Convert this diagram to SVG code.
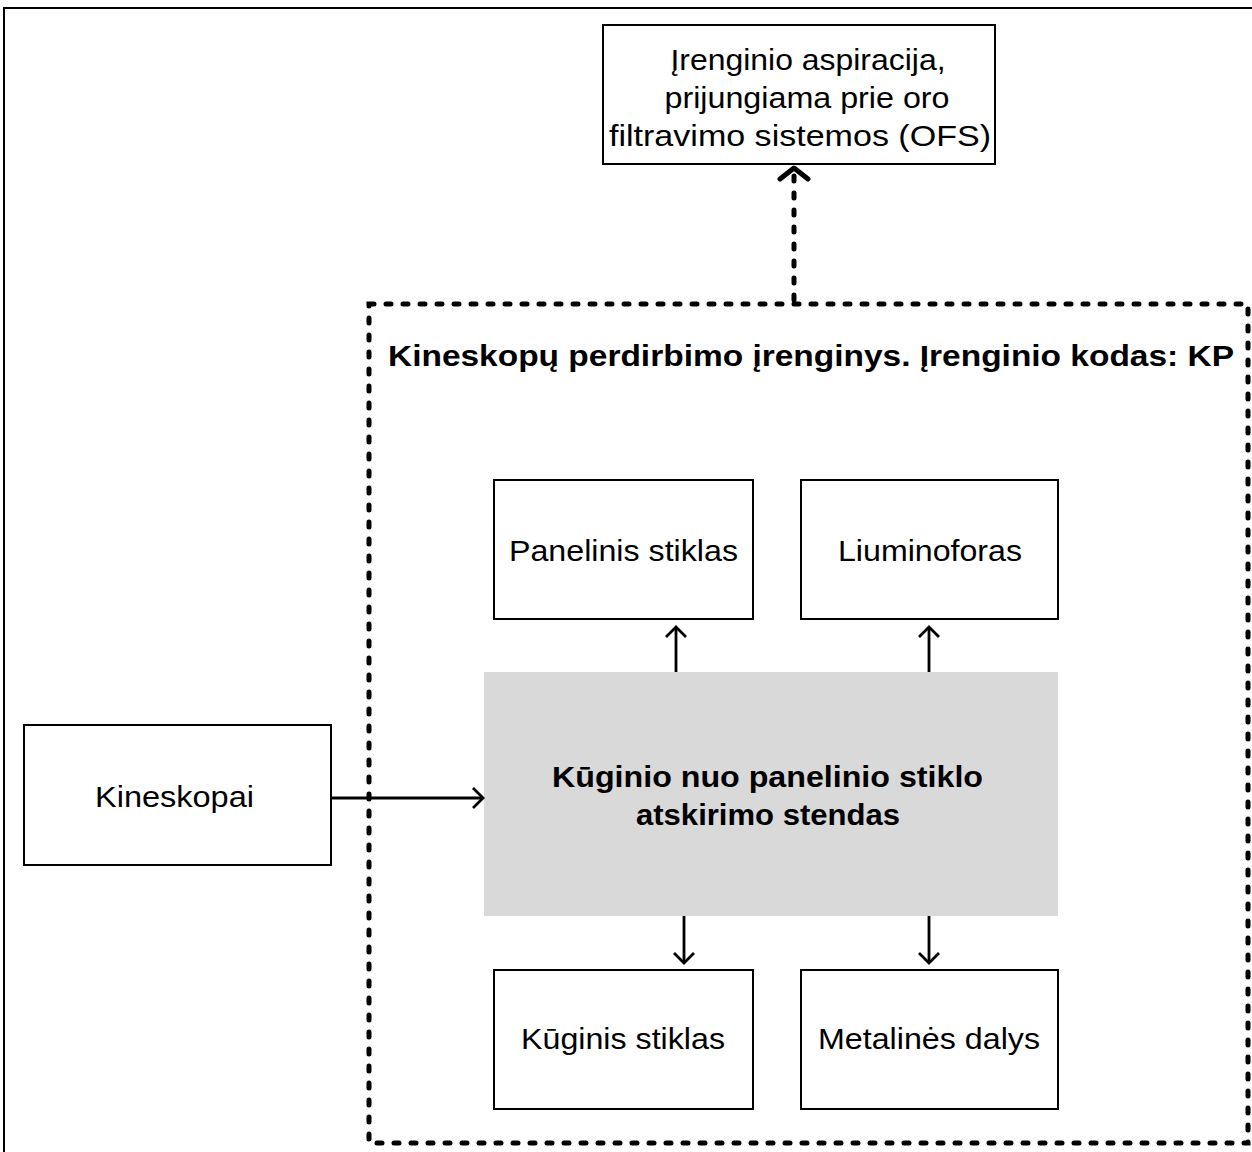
<svg xmlns="http://www.w3.org/2000/svg" width="1252" height="1152" viewBox="0 0 1252 1152">
<style>
.box{fill:#fff;stroke:#000;stroke-width:2}
.t{font-family:"Liberation Sans",Arial,sans-serif;font-size:29px;fill:#000;text-anchor:middle}
.b{font-weight:bold}
.ln{stroke:#000;stroke-width:2.8;fill:none}
.dash{stroke:#000;stroke-width:5;fill:none;stroke-dasharray:5 12;stroke-linecap:round}
</style>
<defs>
<marker id="ah" markerWidth="14" markerHeight="24" refX="11" refY="11" orient="auto" markerUnits="userSpaceOnUse">
<path d="M1,1 L11,11 L1,21" fill="none" stroke="#000" stroke-width="2.8"/>
</marker>
<marker id="ahb" markerWidth="20" markerHeight="36" refX="15" refY="17" orient="auto" markerUnits="userSpaceOnUse">
<path d="M4,3 L15,17 L4,31" fill="none" stroke="#000" stroke-width="5" stroke-linecap="round" stroke-linejoin="round"/>
</marker>
</defs>
<rect x="0" y="0" width="1252" height="1152" fill="#fff"/>
<rect id="frame" x="4" y="8" width="1260" height="1160" fill="none" stroke="#000" stroke-width="2"/>
<g id="unit">
<rect x="369" y="304" width="879" height="839" class="dash"/>
<text class="t b" x="811" y="366" textLength="846" lengthAdjust="spacingAndGlyphs">Kineskopų perdirbimo įrenginys. Įrenginio kodas: KP</text>
</g>
<g id="ofs">
<rect class="box" x="603" y="25" width="392" height="139"/>
<text class="t" x="808" y="70" textLength="275" lengthAdjust="spacingAndGlyphs">Įrenginio aspiracija,</text>
<text class="t" x="807" y="108" textLength="285" lengthAdjust="spacingAndGlyphs">prijungiama prie oro</text>
<text class="t" x="800" y="146" textLength="382" lengthAdjust="spacingAndGlyphs">filtravimo sistemos (OFS)</text>
</g>
<g id="stendas">
<rect x="484" y="672" width="574" height="244" fill="#d9d9d9"/>
<text class="t b" x="767.5" y="787" textLength="431" lengthAdjust="spacingAndGlyphs">Kūginio nuo panelinio stiklo</text>
<text class="t b" x="768" y="825" textLength="264" lengthAdjust="spacingAndGlyphs">atskirimo stendas</text>
</g>
<g id="kineskopai">
<rect class="box" x="24" y="725" width="307" height="140"/>
<text class="t" x="174.5" y="807" textLength="159" lengthAdjust="spacingAndGlyphs">Kineskopai</text>
</g>
<g id="panelinis">
<rect class="box" x="494" y="480" width="259" height="139"/>
<text class="t" x="623.5" y="561" textLength="229" lengthAdjust="spacingAndGlyphs">Panelinis stiklas</text>
</g>
<g id="liuminoforas">
<rect class="box" x="801" y="480" width="257" height="139"/>
<text class="t" x="930" y="561" textLength="184" lengthAdjust="spacingAndGlyphs">Liuminoforas</text>
</g>
<g id="kuginis">
<rect class="box" x="494" y="970" width="259" height="139"/>
<text class="t" x="623" y="1049" textLength="204" lengthAdjust="spacingAndGlyphs">Kūginis stiklas</text>
</g>
<g id="metalines">
<rect class="box" x="801" y="970" width="257" height="139"/>
<text class="t" x="929" y="1049" textLength="222" lengthAdjust="spacingAndGlyphs">Metalinės dalys</text>
</g>
<g id="connectors">
<line class="ln" x1="331" y1="798" x2="483" y2="798" marker-end="url(#ah)"/>
<line class="ln" x1="676" y1="672" x2="676" y2="627" marker-end="url(#ah)"/>
<line class="ln" x1="929" y1="672" x2="929" y2="627" marker-end="url(#ah)"/>
<line class="ln" x1="684" y1="916" x2="684" y2="963" marker-end="url(#ah)"/>
<line class="ln" x1="929" y1="916" x2="929" y2="963" marker-end="url(#ah)"/>
<line class="dash" x1="794" y1="300" x2="794" y2="168" stroke-dasharray="4 12" marker-end="url(#ahb)"/>
</g>
</svg>
